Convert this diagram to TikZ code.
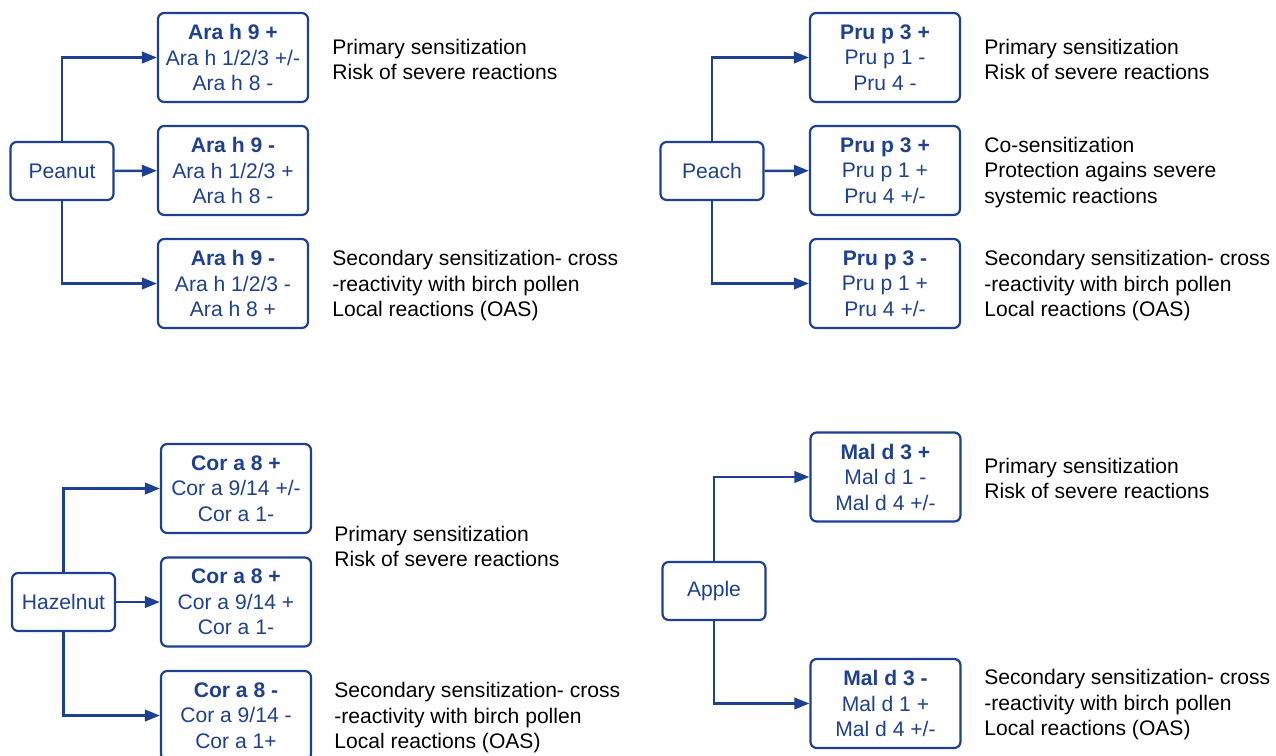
\documentclass[tikz,border=0pt]{standalone}
\usepackage{fontspec}
\setmainfont{Liberation Sans}
\usetikzlibrary{arrows.meta}
\definecolor{allerblue}{RGB}{30,64,145}
\begin{document}
\begin{tikzpicture}[x=0.02cm,y=-0.02cm,
  every node/.style={font=\fontsize{12}{14.5}\selectfont},
  food/.style={draw=allerblue,text=allerblue,line width=1.25pt,rounded corners=3.5pt,minimum width=2.06cm,minimum height=1.16cm},
  comp/.style={draw=allerblue,text=allerblue,line width=1.25pt,rounded corners=3.5pt,align=center,minimum width=3cm,minimum height=1.78cm},
  note/.style={anchor=west,align=left,inner sep=0pt},
  link/.style={draw=allerblue,line width=1.4pt,-{Triangle[length=8.5pt,width=6.5pt]}}]
\useasboundingbox (0,0) rectangle (1276,755);
\node[food] (peanut) at (62,171) {Peanut};
\node[comp] (ara1) at (233,57.5) {\textbf{Ara h 9 +}\\Ara h 1/2/3 +/-\\Ara h 8 -};
\node[comp] (ara2) at (233,170.5) {\textbf{Ara h 9 -}\\Ara h 1/2/3 +\\Ara h 8 -};
\node[comp] (ara3) at (233,283.5) {\textbf{Ara h 9 -}\\Ara h 1/2/3 -\\Ara h 8 +};
\draw[link] (peanut.north) |- (ara1.west);
\draw[link] (peanut) -- (ara2);
\draw[link] (peanut.south) |- (ara3.west);
\node[note] (arat1) at (332,59.5) {Primary sensitization\\Risk of severe reactions};
\node[note] (arat3) at (332,286) {Secondary sensitization- cross\\-reactivity with birch pollen\\Local reactions (OAS)};

\node[food] (peach) at (712,171) {Peach};
\node[comp] (pru1) at (885,57.5) {\textbf{Pru p 3 +}\\Pru p 1 -\\Pru 4 -};
\node[comp] (pru2) at (885,170.5) {\textbf{Pru p 3 +}\\Pru p 1 +\\Pru 4 +/-};
\node[comp] (pru3) at (885,283.5) {\textbf{Pru p 3 -}\\Pru p 1 +\\Pru 4 +/-};
\draw[link] (peach.north) |- (pru1.west);
\draw[link] (peach) -- (pru2);
\draw[link] (peach.south) |- (pru3.west);
\node[note] (prut1) at (984,59.5) {Primary sensitization\\Risk of severe reactions};
\node[note] (prut2) at (984,172.5) {Co-sensitization\\Protection agains severe\\systemic reactions};
\node[note] (prut3) at (984,286) {Secondary sensitization- cross\\-reactivity with birch pollen\\Local reactions (OAS)};

\node[food] (hazel) at (63.5,602) {Hazelnut};
\node[comp] (cor1) at (236,488.5) {\textbf{Cor a 8 +}\\Cor a 9/14 +/-\\Cor a 1-};
\node[comp] (cor2) at (236,602) {\textbf{Cor a 8 +}\\Cor a 9/14 +\\Cor a 1-};
\node[comp] (cor3) at (236,715.5) {\textbf{Cor a 8 -}\\Cor a 9/14 -\\Cor a 1+};
\draw[link] (hazel.north) |- (cor1.west);
\draw[link] (hazel) -- (cor2);
\draw[link] (hazel.south) |- (cor3.west);
\node[note] (cort1) at (334,546.5) {Primary sensitization\\Risk of severe reactions};
\node[note] (cort3) at (334,718) {Secondary sensitization- cross\\-reactivity with birch pollen\\Local reactions (OAS)};

\node[food] (apple) at (714,591) {Apple};
\node[comp] (mal1) at (885.5,477) {\textbf{Mal d 3 +}\\Mal d 1 -\\Mal d 4 +/-};
\node[comp] (mal2) at (885.5,703.5) {\textbf{Mal d 3 -}\\Mal d 1 +\\Mal d 4 +/-};
\draw[link] (apple.north) |- (mal1.west);
\draw[link] (apple.south) |- (mal2.west);
\node[note] (malt1) at (984,478.5) {Primary sensitization\\Risk of severe reactions};
\node[note] (malt2) at (984,705) {Secondary sensitization- cross\\-reactivity with birch pollen\\Local reactions (OAS)};
\end{tikzpicture}
\end{document}
